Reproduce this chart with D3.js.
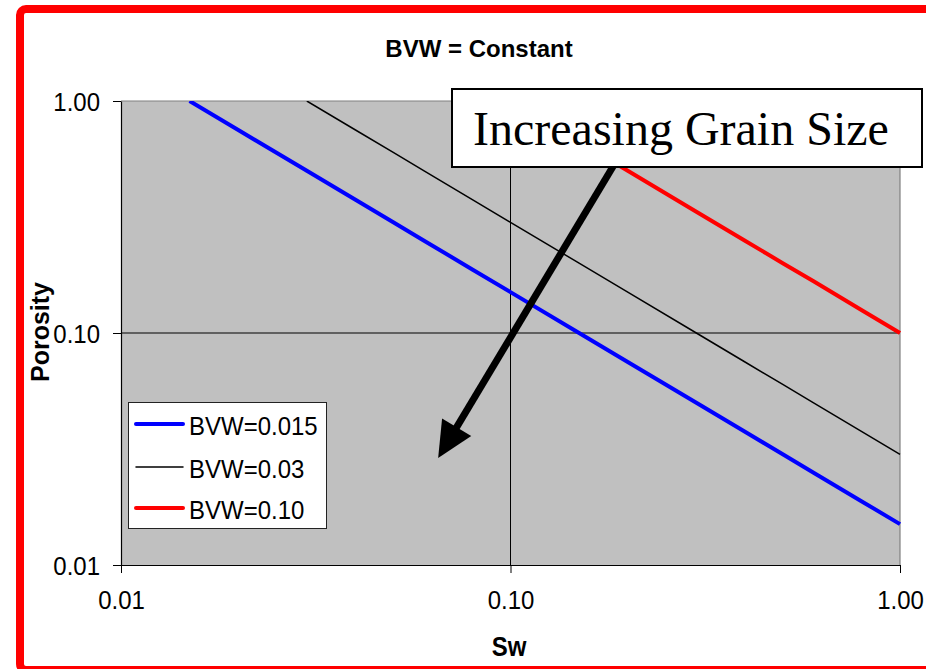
<!DOCTYPE html>
<html>
<head>
<meta charset="utf-8">
<script src="https://cdn.jsdelivr.net/npm/d3@7"></script>
<style>
  html, body { margin: 0; padding: 0; background: #fff; }
  svg { display: block; }
</style>
</head>
<body>
<svg id="chart" width="926" height="669"></svg>
<script>
// Bulk volume water curves: porosity read against water saturation (log-log)
const swBlue = [0.015, 0.02, 0.03, 0.04, 0.05, 0.06, 0.08, 0.1, 0.15, 0.2, 0.3, 0.4, 0.5, 0.6, 0.8, 1.0];
const phiBlue = [1.0, 0.75, 0.5, 0.375, 0.3, 0.25, 0.1875, 0.15, 0.1, 0.075, 0.05, 0.0375, 0.03, 0.025, 0.01875, 0.015];

const swBlack = [0.03, 0.04, 0.05, 0.06, 0.08, 0.1, 0.15, 0.2, 0.3, 0.4, 0.5, 0.6, 0.8, 1.0];
const phiBlack = [1.0, 0.75, 0.6, 0.5, 0.375, 0.3, 0.2, 0.15, 0.1, 0.075, 0.06, 0.05, 0.0375, 0.03];

const swRed = [0.1, 0.15, 0.2, 0.3, 0.4, 0.5, 0.6, 0.8, 1.0];
const phiRed = [1.0, 0.667, 0.5, 0.333, 0.25, 0.2, 0.167, 0.125, 0.1];

const seriesNames = ["BVW=0.015", "BVW=0.03", "BVW=0.10"];
const seriesColors = ["#0000ff", "#000000", "#ff0000"];

const tickValues = [0.01, 0.1, 1.0];
const tickLabels = ["0.01", "0.10", "1.00"];

// Annotation arrow, in data units (Sw, porosity): tail then tip
const arrowSw = [0.1876, 0.0652];
const arrowPhi = [0.557, 0.0289];

const svg = d3.select("#chart");
const plotLeft = 121, plotRight = 900, plotTop = 101, plotBottom = 565;

const x = d3.scaleLog().domain([0.01, 1]).range([plotLeft, plotRight]);
const y = d3.scaleLog().domain([0.01, 1]).range([plotBottom, plotTop]);

const sans = "'Liberation Sans', Arial, sans-serif";

// slightly tall lettering: stretch text vertically around its own centre
function stretch(sel, k) {
  sel.each(function () {
    const b = this.getBBox();
    const cy = b.y + b.height / 2;
    const prev = this.getAttribute("transform") || "";
    this.setAttribute("transform", `${prev} translate(0,${cy}) scale(1,${k}) translate(0,${-cy})`);
  });
}

// plot background
svg.append("rect")
  .attr("x", plotLeft).attr("y", plotTop)
  .attr("width", plotRight - plotLeft).attr("height", plotBottom - plotTop)
  .attr("fill", "#c0c0c0");

// gridlines at the 0.10 decade
svg.append("line")
  .attr("x1", x(0.1)).attr("x2", x(0.1))
  .attr("y1", plotTop).attr("y2", plotBottom)
  .attr("stroke", "#000").attr("stroke-width", 1);
svg.append("line")
  .attr("x1", plotLeft).attr("x2", plotRight)
  .attr("y1", y(0.1)).attr("y2", y(0.1))
  .attr("stroke", "#000").attr("stroke-width", 1);

// top and right plot border
svg.append("path")
  .attr("d", `M${plotLeft},${plotTop}H${plotRight}V${plotBottom}`)
  .attr("fill", "none").attr("stroke", "#808080").attr("stroke-width", 1.2);

svg.append("clipPath").attr("id", "plotClip")
  .append("rect")
  .attr("x", plotLeft).attr("y", plotTop)
  .attr("width", plotRight - plotLeft + 3).attr("height", plotBottom - plotTop);

const line = d3.line().x(d => x(d[0])).y(d => y(d[1]));
const series = [
  { sw: swBlue, phi: phiBlue, w: 4 },
  { sw: swBlack, phi: phiBlack, w: 1.5 },
  { sw: swRed, phi: phiRed, w: 4 }
];
const gCurves = svg.append("g").attr("clip-path", "url(#plotClip)");
series.forEach((s, i) => {
  gCurves.append("path")
    .datum(s.sw.map((v, k) => [v, s.phi[k]]))
    .attr("d", line)
    .attr("fill", "none")
    .attr("stroke", seriesColors[i])
    .attr("stroke-width", s.w)
    .attr("stroke-linejoin", "round")
    .attr("stroke-linecap", "butt");
});

// axes
const xAxis = d3.axisBottom(x).tickValues(tickValues)
  .tickFormat((d, i) => tickLabels[i]).tickSizeInner(8).tickSizeOuter(0).tickPadding(18);
const yAxis = d3.axisLeft(y).tickValues(tickValues)
  .tickFormat((d, i) => tickLabels[i]).tickSizeInner(8).tickSizeOuter(0).tickPadding(13);

const gx = svg.append("g").attr("transform", `translate(0,${plotBottom})`).call(xAxis);
const gy = svg.append("g").attr("transform", `translate(${plotLeft},0)`).call(yAxis);
[gx, gy].forEach(g => {
  g.select(".domain").attr("stroke", "#000").attr("stroke-width", 1.2);
  g.selectAll(".tick line").attr("stroke", "#000").attr("stroke-width", 1);
  g.selectAll(".tick text")
    .attr("fill", "#000")
    .style("font-family", sans)
    .style("font-size", "24px");
});
gx.selectAll(".tick text").attr("dy", "0.71em");
gy.selectAll(".tick text").attr("dy", "0.35em");
stretch(gx.selectAll(".tick text"), 1.09);
stretch(gy.selectAll(".tick text"), 1.09);

// legend
const lg = svg.append("g");
lg.append("rect")
  .attr("x", 128.5).attr("y", 402.5)
  .attr("width", 198).attr("height", 126)
  .attr("fill", "#fff").attr("stroke", "#222").attr("stroke-width", 1);
const rowY = [424, 467, 508];
const legendW = [4, 1.5, 4];
seriesNames.forEach((name, i) => {
  lg.append("line")
    .attr("x1", 136).attr("x2", 183)
    .attr("y1", rowY[i]).attr("y2", rowY[i])
    .attr("stroke", seriesColors[i]).attr("stroke-width", legendW[i])
    .attr("stroke-linecap", "round");
  const t = lg.append("text")
    .attr("x", 189).attr("y", rowY[i] + 10)
    .style("font-family", sans).style("font-size", "24px")
    .attr("fill", "#000")
    .text(name);
  stretch(t, 1.1);
});

// titles
const title = svg.append("text")
  .attr("x", 479).attr("y", 57)
  .attr("text-anchor", "middle")
  .style("font-family", sans).style("font-size", "24px").style("font-weight", "bold")
  .text("BVW = Constant");
stretch(title, 1.03);

const xTitle = svg.append("text")
  .attr("x", 509).attr("y", 655)
  .attr("text-anchor", "middle")
  .style("font-family", sans).style("font-size", "24px").style("font-weight", "bold")
  .text("Sw");
stretch(xTitle, 1.15);

svg.append("text")
  .attr("transform", "translate(49,332) rotate(-90)")
  .attr("text-anchor", "middle")
  .style("font-family", sans).style("font-size", "25px").style("font-weight", "bold")
  .text("Porosity");

// arrow pointing toward larger grain size
const tail = [x(arrowSw[0]), y(arrowPhi[0])];
const tip = [x(arrowSw[1]), y(arrowPhi[1])];
const dx = tip[0] - tail[0], dy = tip[1] - tail[1];
const len = Math.hypot(dx, dy);
const ux = dx / len, uy = dy / len;
const headLen = 36, headHalf = 17;
const base = [tip[0] - ux * headLen, tip[1] - uy * headLen];
svg.append("line")
  .attr("x1", tail[0]).attr("y1", tail[1])
  .attr("x2", base[0] + ux * 4).attr("y2", base[1] + uy * 4)
  .attr("stroke", "#000").attr("stroke-width", 7);
svg.append("path")
  .attr("d", d3.line()([
    tip,
    [base[0] - uy * headHalf, base[1] + ux * headHalf],
    [base[0] + uy * headHalf, base[1] - ux * headHalf]
  ]) + "Z")
  .attr("fill", "#000");

// annotation box
svg.append("rect")
  .attr("x", 452).attr("y", 89)
  .attr("width", 470).attr("height", 78)
  .attr("fill", "#fff").attr("stroke", "#000").attr("stroke-width", 2);
svg.append("text")
  .attr("x", 473).attr("y", 145)
  .style("font-family", "'Liberation Serif', 'Times New Roman', serif")
  .style("font-size", "48px")
  .attr("fill", "#000")
  .text("Increasing Grain Size");

// outer frame
svg.append("rect")
  .attr("x", 20).attr("y", 9)
  .attr("width", 960).attr("height", 661)
  .attr("rx", 6).attr("ry", 6)
  .attr("fill", "none").attr("stroke", "#ff0000").attr("stroke-width", 8);
</script>
</body>
</html>
